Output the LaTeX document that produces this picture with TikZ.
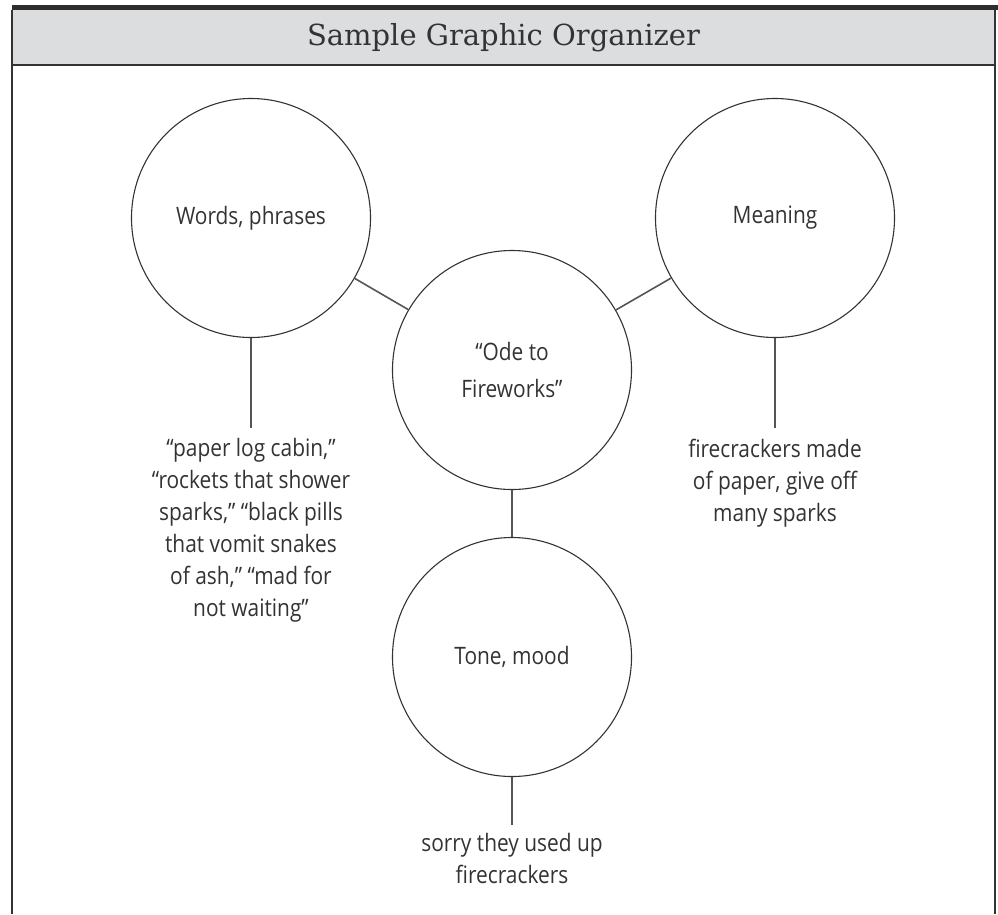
\documentclass[tikz,border=0pt]{standalone}
\usepackage{fontspec}
\setmainfont{Open Sans}[FakeStretch=0.87]
\newfontfamily\titlefont{DejaVu Serif}
\definecolor{ink}{HTML}{333333}
\definecolor{headgray}{HTML}{DCDDDF}
\definecolor{linegray}{HTML}{555555}
\tikzset{
  bubble/.style={circle, draw=ink, line width=1.1pt, minimum size=239pt, inner sep=0pt,
                 text=ink, font=\fontsize{24}{32}\selectfont, align=center},
  note/.style={text=ink, font=\fontsize{24}{32}\selectfont, align=center, inner sep=0pt},
  conn/.style={draw=linegray, line width=1.6pt},
  frame/.style={draw=ink, line width=1.8pt}
}
\begin{document}
\begin{tikzpicture}[x=1pt, y=-1pt]
  \useasboundingbox (0,0) rectangle (998,914);
  % header band
  \fill[headgray] (12,10) rectangle (995,65);
  \fill[ink!90!black] (12,4.5) rectangle (998,10);
  \draw[frame] (12,65) -- (995,65);
  \draw[frame] (12,10) -- (12,914);
  \draw[frame] (995,10) -- (995,914);
  \node[text=ink, font=\titlefont\fontsize{29}{32}\selectfont] (title) at (503.5,38) {Sample Graphic Organizer};

  % the four circles
  \node[bubble] (words) at (251,218) {Words, phrases};
  \node[bubble] (meaning) at (775,218) {Meaning};
  \node[bubble] (ode) at (512,370) {``Ode to\\[5pt] Fireworks''};
  \node[bubble] (tone) at (512,657) {Tone, mood};

  % connectors between circles
  \draw[conn] (words) -- (ode);
  \draw[conn] (meaning) -- (ode);
  \draw[conn] (ode) -- (tone);

  % stems down to the notes
  \coordinate (wend) at (251,428);
  \coordinate (mend) at (775,428);
  \coordinate (tend) at (512,825);
  \draw[conn] (words.south) -- (wend);
  \draw[conn] (meaning.south) -- (mend);
  \draw[conn] (tone.south) -- (tend);

  % notes
  \node[note, anchor=north] (wnote) at (251,438) {``paper log cabin,''\\ ``rockets that shower\\ sparks,'' ``black pills\\ that vomit snakes\\ of ash,'' ``mad for\\ not waiting''};
  \node[note, anchor=north] (mnote) at (775,439) {firecrackers made\\ of paper, give off\\ many sparks};
  \node[note, anchor=north] (tnote) at (512,833) {sorry they used up\\ firecrackers};
\end{tikzpicture}
\end{document}
